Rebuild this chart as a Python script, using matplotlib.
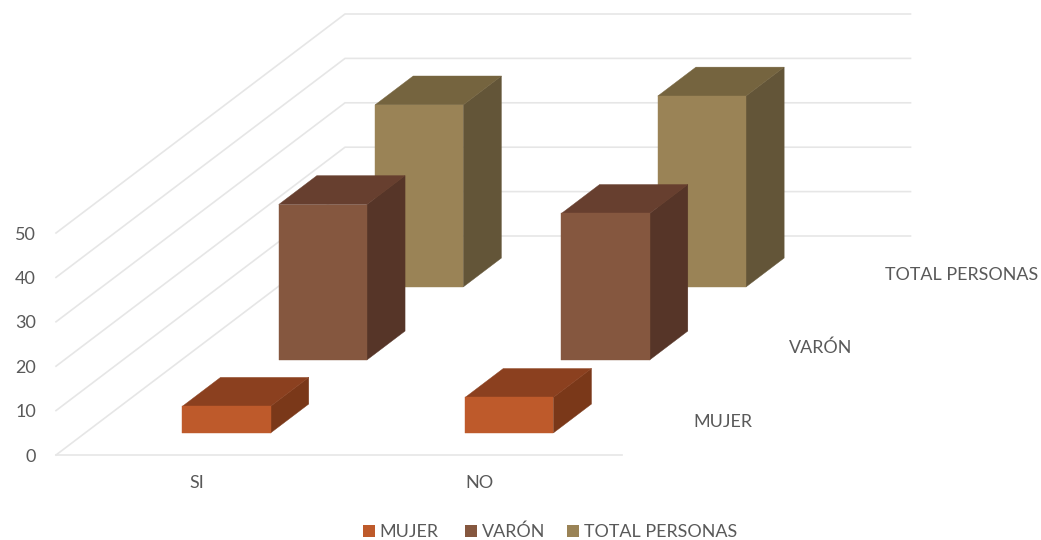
import matplotlib
matplotlib.use('Agg')
import matplotlib.pyplot as plt
from matplotlib.patches import Polygon, Rectangle

plt.rcParams['font.family'] = ['Lato', 'DejaVu Sans']

# Data
categories = ['SI', 'NO']
series_names = ['MUJER', 'VARÓN', 'TOTAL PERSONAS']
mujer = [6, 8]
varon = [35, 33]
total = [41, 43]
y_ticks = [0, 10, 20, 30, 40, 50]

# face colours per series: front, top, side
FRONT = ['#BE5A2B', '#85573F', '#9A8356']
TOP = ['#8B401F', '#673F2F', '#75643F']
SIDE = ['#7A3819', '#563528', '#635538']
GRID = '#E6E6E6'
TEXT = '#595959'

# oblique projection of the 3d box, in pixels of the output
X0, Y0 = 56, 455
WIDTH = 565.5
DEPTH_X, DEPTH_Y = 289, 219
UNIT = 4.44
BAR_W = 0.156
BAR_D = 0.132


def project(x, d, v):
    return (X0 + x * WIDTH + d * DEPTH_X, Y0 - d * DEPTH_Y - v * UNIT)


def draw_box(ax, xc, dc, value, s):
    x1, x2 = xc - BAR_W / 2, xc + BAR_W / 2
    d1, d2 = dc - BAR_D / 2, dc + BAR_D / 2
    front = [project(x1, d1, 0), project(x2, d1, 0), project(x2, d1, value), project(x1, d1, value)]
    top = [project(x1, d1, value), project(x2, d1, value), project(x2, d2, value), project(x1, d2, value)]
    side = [project(x2, d1, 0), project(x2, d2, 0), project(x2, d2, value), project(x2, d1, value)]
    ax.add_patch(Polygon(side, fc=SIDE[s], ec=SIDE[s], lw=0.3, zorder=3))
    ax.add_patch(Polygon(top, fc=TOP[s], ec=TOP[s], lw=0.3, zorder=3))
    ax.add_patch(Polygon(front, fc=FRONT[s], ec=FRONT[s], lw=0.3, zorder=3))


fig = plt.figure(figsize=(10.41, 5.4), dpi=100)
ax = fig.add_axes([0, 0, 1, 1])
ax.set_xlim(0, 1041)
ax.set_ylim(540, 0)
ax.axis('off')

# Walls
for v in y_ticks:
    p0 = project(0, 0, v)
    p1 = project(0, 1, v)
    p2 = project(1, 1, v)
    ax.plot([p0[0], p1[0], p2[0]], [p0[1], p1[1], p2[1]], color=GRID, lw=1.2, zorder=1)
    ax.text(36, p0[1] + 1.5, str(v), ha='right', va='center', fontsize=13, color=TEXT)
front_l, front_r = project(0, 0, 0), project(1, 0, 0)
ax.plot([front_l[0], front_r[0]], [front_l[1], front_r[1]], color=GRID, lw=1.2, zorder=1)

# Bars, back series first
all_series = [mujer, varon, total]
for s in range(len(all_series) - 1, -1, -1):
    for i, value in enumerate(all_series[s]):
        draw_box(ax, (i + 0.5) / len(categories), (s + 0.5) / len(all_series), value, s)

# Category and series labels
for i, cat in enumerate(categories):
    ax.text(project((i + 0.5) / len(categories), 0, 0)[0] - 1, 483, cat, ha='center', va='center',
            fontsize=13, color=TEXT)
label_x = [693, 789, 885]
label_y = [422, 348, 275]
for name, lx, ly in zip(series_names, label_x, label_y):
    ax.text(lx, ly, name, ha='left', va='center', fontsize=12.9, color=TEXT)

# Legend
legend_x = [363, 465, 567]
for s, (name, lx) in enumerate(zip(series_names, legend_x)):
    ax.add_patch(Rectangle((lx, 525), 12, 12, color=FRONT[s], lw=0))
    ax.text(lx + 16.5, 532, name, ha='left', va='center', fontsize=12.9, color=TEXT)

fig.savefig('out.png', dpi=100, facecolor='white')
plt.close(fig)
